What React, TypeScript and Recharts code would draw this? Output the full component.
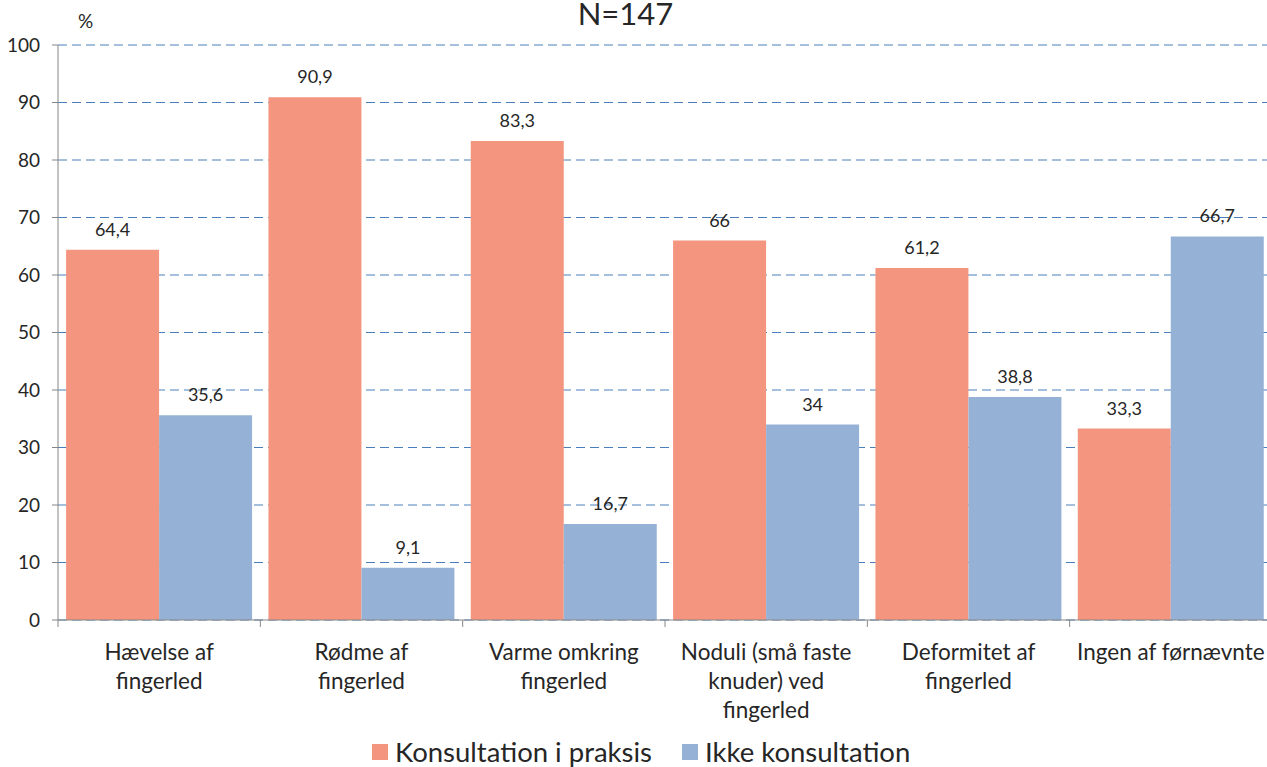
import React from 'react';
import { BarChart, Bar, XAxis, YAxis, CartesianGrid, LabelList } from 'recharts';

const categories = [
  'Hævelse af\nfingerled',
  'Rødme af\nfingerled',
  'Varme omkring\nfingerled',
  'Noduli (små faste\nknuder) ved\nfingerled',
  'Deformitet af\nfingerled',
  'Ingen af førnævnte',
];
const konsultation = [64.4, 90.9, 83.3, 66, 61.2, 33.3];
const ikkeKonsultation = [35.6, 9.1, 16.7, 34, 38.8, 66.7];
const yTicks = [0, 10, 20, 30, 40, 50, 60, 70, 80, 90, 100];
const seriesNames = ['Konsultation i praksis', 'Ikke konsultation'];
const title = 'N=147';
const unitLabel = '%';

const RED = '#F4967F';
const BLUE = '#95B2D6';
const AXIS = '#868686';
const TEXT = '#262626';
const FONT = 'Lato, "Open Sans", sans-serif';

const data = categories.map((name, i) => ({
  name,
  konsultation: konsultation[i],
  ikke: ikkeKonsultation[i],
}));

const fmt = (v: any) => String(v).replace('.', ',');

// multi-line category label plus a tick mark on the left edge of each band
const CategoryTick = (props: any) => {
  const { x, y, payload } = props;
  const half = payload?.offset ?? 0;
  const lines = String(payload.value).split('\n');
  return (
    <g>
      <line x1={x - half} x2={x - half} y1={y} y2={y + 7} stroke={AXIS} strokeWidth={1} />
      <text x={x} y={y} textAnchor="middle" fill={TEXT} fontSize={22.5} fontFamily={FONT}>
        {lines.map((l, i) => (
          <tspan key={i} x={x} dy={i === 0 ? 40 : 29}>
            {l}
          </tspan>
        ))}
      </text>
    </g>
  );
};

export default function App() {
  return (
    <div
      style={{
        position: 'absolute',
        left: 0,
        top: 0,
        width: 1267,
        height: 767,
        overflow: 'hidden',
        background: '#fff',
        fontFamily: FONT,
        color: TEXT,
      }}
    >
      <div
        style={{
          position: 'absolute',
          left: 0,
          width: 1251,
          top: -5,
          textAlign: 'center',
          fontSize: 31,
          lineHeight: '36px',
        }}
      >
        {title}
      </div>
      <div style={{ position: 'absolute', left: 78, top: 10, fontSize: 19, lineHeight: '22px' }}>
        {unitLabel}
      </div>

      <BarChart
        width={1280}
        height={767}
        data={data}
        margin={{ top: 45, right: 8, bottom: 0, left: 0 }}
        barCategoryGap="4%"
        barGap={0}
      >
        <CartesianGrid vertical={false} stroke="#4A7EBB" strokeDasharray="9 5" />
        <XAxis
          dataKey="name"
          interval={0}
          height={147}
          axisLine={{ stroke: AXIS }}
          tickLine={false}
          tickSize={0}
          tickMargin={0}
          tick={<CategoryTick />}
        />
        <YAxis
          domain={[0, 100]}
          ticks={yTicks}
          width={58}
          axisLine={{ stroke: AXIS }}
          tickLine={{ stroke: AXIS }}
          tickSize={6}
          tickMargin={12}
          tick={{ fill: TEXT, fontSize: 19, fontFamily: FONT }}
        />
        <Bar dataKey="konsultation" name={seriesNames[0]} fill={RED} isAnimationActive={false}>
          <LabelList
            dataKey="konsultation"
            position="top"
            offset={14}
            formatter={fmt}
            style={{ fill: TEXT, fontSize: 18, fontFamily: FONT }}
          />
        </Bar>
        <Bar dataKey="ikke" name={seriesNames[1]} fill={BLUE} isAnimationActive={false}>
          <LabelList
            dataKey="ikke"
            position="top"
            offset={14}
            formatter={fmt}
            style={{ fill: TEXT, fontSize: 18, fontFamily: FONT }}
          />
        </Bar>
      </BarChart>

      <div
        style={{
          position: 'absolute',
          left: 372,
          top: 736,
          display: 'flex',
          alignItems: 'center',
          fontSize: 27.5,
          lineHeight: '32px',
          whiteSpace: 'nowrap',
        }}
      >
        {seriesNames.map((n, i) => (
          <div key={n} style={{ display: 'flex', alignItems: 'center', marginRight: 30 }}>
            <span style={{ width: 16, height: 16, background: i === 0 ? RED : BLUE, marginRight: 7 }} />
            <span>{n}</span>
          </div>
        ))}
      </div>
    </div>
  );
}
